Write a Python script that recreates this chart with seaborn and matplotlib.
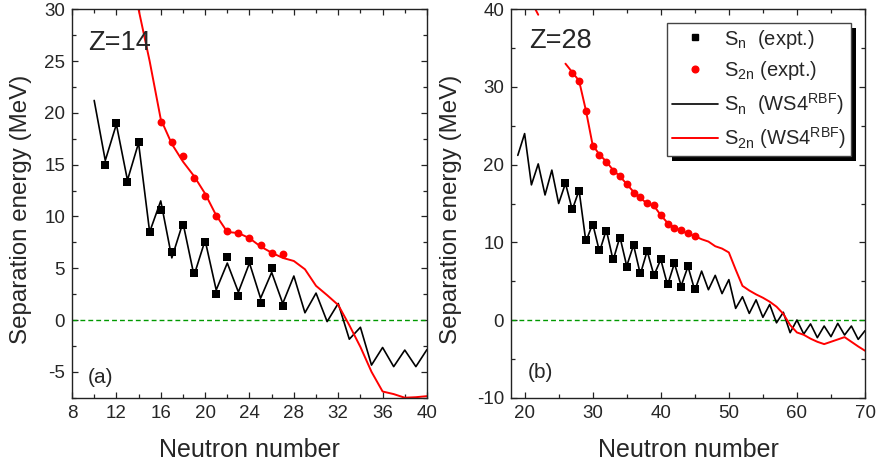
import numpy as np
import pandas as pd
import matplotlib
matplotlib.use('Agg')
import matplotlib.pyplot as plt
from matplotlib.lines import Line2D
from matplotlib.patches import Rectangle
from matplotlib.ticker import MultipleLocator
import seaborn as sns

# ---------------- data: Z = 14 ----------------
a_calc_sn_N = list(range(10, 41))
a_calc_sn = [21.2, 15.4, 18.9, 13.5, 17.1, 8.5, 11.5, 6.0, 9.4, 4.3, 7.7, 2.9, 5.5, 2.7,
             5.5, 2.1, 4.6, 1.6, 4.25, 0.7, 2.6, -0.15, 1.6, -1.85, -0.7, -4.35, -2.65,
             -4.5, -2.9, -4.5, -2.85]
a_expt_sn_N = list(range(11, 28))
a_expt_sn = [15.0, 19.0, 13.3, 17.15, 8.5, 10.6, 6.6, 9.2, 4.5, 7.5, 2.5, 6.1, 2.3, 5.7,
             1.6, 5.0, 1.35]
a_expt_s2n_N = list(range(16, 28))
a_expt_s2n = [19.1, 17.15, 15.8, 13.7, 12.0, 10.0, 8.6, 8.4, 7.9, 7.2, 6.5, 6.35]
a_calc_s2n_N = list(range(13, 41))
a_calc_s2n = [35.5, 30.0, 25.0, 19.4, 17.0, 15.3, 13.9, 12.2, 10.1, 8.5, 8.4, 7.9, 7.1,
              6.5, 6.0, 5.7, 4.9, 3.3, 2.4, 1.45, -0.5, -2.6, -5.0, -6.9, -7.15, -7.5,
              -7.45, -7.35]

# ---------------- data: Z = 28 ----------------
b_calc_sn_N = list(range(19, 71))
b_calc_sn = [21.2, 24.0, 17.4, 20.1, 16.1, 19.3, 15.0, 17.6, 14.2, 16.7,
             10.1, 12.4, 8.8, 11.6, 7.7, 10.7, 6.95, 9.65, 5.9, 8.9,
             5.75, 7.8, 4.5, 7.3, 4.4, 6.9, 3.8, 6.3, 3.9, 5.75,
             3.4, 5.2, 1.5, 3.0, 0.85, 2.6, 0.35, 2.0, -0.36, 1.0,
             -1.63, 0.0, -1.8, -0.5, -2.27, -0.77, -2.14, -0.43, -1.93, -0.77,
             -2.49, -1.37]
b_expt_sn_N = list(range(26, 46))
b_expt_sn = [17.6, 14.25, 16.6, 10.3, 12.2, 9.0, 11.45, 7.85, 10.55, 6.85, 9.65, 6.1,
             8.9, 5.8, 7.8, 4.6, 7.3, 4.3, 6.95, 3.95]
b_expt_s2n_N = list(range(27, 46))
b_expt_s2n = [31.8, 30.8, 26.9, 22.4, 21.2, 20.4, 19.2, 18.5, 17.5, 16.4, 15.8, 15.1,
              14.8, 13.5, 12.4, 11.9, 11.6, 11.2, 10.8]
b_calc_s2n_N_seg1 = [20, 21, 22]
b_calc_s2n_seg1 = [44.0, 41.0, 39.3]
b_calc_s2n_N_seg2 = list(range(26, 71))
b_calc_s2n_seg2 = [33.0, 31.9, 30.8, 27.0, 22.5, 21.3, 20.4, 19.3, 18.5, 17.5,
                   16.5, 15.7, 15.0, 14.7, 13.5, 12.5, 11.9, 11.5, 11.1, 10.8,
                   10.4, 10.1, 9.5, 9.2, 8.7, 6.5, 4.4, 3.8, 3.3, 2.87,
                   2.36, 1.72, 0.8, -0.65, -1.6, -1.9, -2.4, -2.8, -3.1, -2.8,
                   -2.5, -2.2, -2.8, -3.4, -3.95]

legend_labels = ["S$_n$  (expt.)", "S$_{2n}$ (expt.)",
                 "S$_n$  (WS4$^{RBF}$)", "S$_{2n}$ (WS4$^{RBF}$)"]

# ---------------- style ----------------
sns.set_style('ticks')
plt.rcParams['font.family'] = ['Liberation Sans', 'DejaVu Sans']
plt.rcParams['mathtext.default'] = 'regular'
plt.rcParams['axes.unicode_minus'] = False

RED = '#ff0000'
GREEN = '#009900'
SPINE = '#222222'

fig = plt.figure(figsize=(8.78, 4.70), dpi=100)
ax1 = fig.add_axes([0.0820, 0.1538, 0.4043, 0.8264])
ax2 = fig.add_axes([0.5820, 0.1538, 0.4032, 0.8264])


def draw_panel(ax, calc_sn_N, calc_sn, calc_s2n_df, expt_sn_N, expt_sn, expt_s2n_N, expt_s2n):
    ax.axhline(0, color=GREEN, lw=1.0, ls=(0, (3.5, 2.2)), zorder=1)
    sns.lineplot(x=calc_sn_N, y=calc_sn, ax=ax, color='k', lw=1.2,
                 estimator=None, sort=False, legend=False, zorder=2)
    sns.lineplot(data=calc_s2n_df, x='N', y='S', units='seg', ax=ax, color=RED, lw=1.4,
                 estimator=None, sort=False, legend=False, zorder=2)
    sns.scatterplot(x=expt_sn_N, y=expt_sn, ax=ax, marker='s', s=28, color='k',
                    linewidth=0, legend=False, zorder=3)
    sns.scatterplot(x=expt_s2n_N, y=expt_s2n, ax=ax, marker='o', s=32, color=RED,
                    linewidth=0, legend=False, zorder=3)


df_a = pd.DataFrame({'N': a_calc_s2n_N, 'S': a_calc_s2n, 'seg': 0})
draw_panel(ax1, a_calc_sn_N, a_calc_sn, df_a, a_expt_sn_N, a_expt_sn,
           a_expt_s2n_N, a_expt_s2n)

df_b = pd.concat([
    pd.DataFrame({'N': b_calc_s2n_N_seg1, 'S': b_calc_s2n_seg1, 'seg': 0}),
    pd.DataFrame({'N': b_calc_s2n_N_seg2, 'S': b_calc_s2n_seg2, 'seg': 1}),
], ignore_index=True)
draw_panel(ax2, b_calc_sn_N, b_calc_sn, df_b, b_expt_sn_N, b_expt_sn,
           b_expt_s2n_N, b_expt_s2n)

# axes formatting
ax1.set_xlim(8, 40)
ax1.set_ylim(-7.5, 30)
ax1.xaxis.set_major_locator(MultipleLocator(4))
ax1.xaxis.set_minor_locator(MultipleLocator(2))
ax1.yaxis.set_major_locator(MultipleLocator(5))
ax1.yaxis.set_minor_locator(MultipleLocator(2.5))

ax2.set_xlim(18, 70)
ax2.set_ylim(-10, 40)
ax2.xaxis.set_major_locator(MultipleLocator(10))
ax2.xaxis.set_minor_locator(MultipleLocator(5))
ax2.yaxis.set_major_locator(MultipleLocator(10))
ax2.yaxis.set_minor_locator(MultipleLocator(5))

for ax, ylx in ((ax1, -0.113), (ax2, -0.138)):
    for sp in ax.spines.values():
        sp.set_visible(True)
        sp.set_linewidth(1.0)
        sp.set_color(SPINE)
    ax.tick_params(which='both', direction='in', top=True, right=True,
                   width=0.9, color=SPINE, labelsize=13.5, pad=5)
    ax.tick_params(which='major', length=4.0)
    ax.tick_params(which='minor', length=2.8)
    ax.set_xlabel('Neutron number', fontsize=18)
    ax.set_ylabel('Separation energy (MeV)', fontsize=17.4)
    ax.xaxis.set_label_coords(0.5, -0.105)
    ax.yaxis.set_label_coords(ylx, 0.486)

ax1.text(0.045, 0.895, 'Z=14', transform=ax1.transAxes, fontsize=19.5, va='baseline')
ax2.text(0.051, 0.900, 'Z=28', transform=ax2.transAxes, fontsize=19.5, va='baseline')
ax1.text(0.045, 0.038, '(a)', transform=ax1.transAxes, fontsize=15, va='baseline')
ax2.text(0.048, 0.050, '(b)', transform=ax2.transAxes, fontsize=15, va='baseline')

# legend
handles = [
    Line2D([], [], ls='none', marker='s', ms=4.3, color='k', mec='k'),
    Line2D([], [], ls='none', marker='o', ms=4.8, color=RED, mec=RED),
    Line2D([], [], color='k', lw=1.2),
    Line2D([], [], color=RED, lw=1.4),
]
leg = ax2.legend(handles, legend_labels, loc='upper left', bbox_to_anchor=(0.44, 0.966),
                 borderaxespad=0, fontsize=14.5, frameon=True, fancybox=False,
                 framealpha=1, edgecolor='#444444', handlelength=2.3,
                 handletextpad=0.3, labelspacing=0.43, borderpad=0.25)
leg.get_frame().set_linewidth(1.0)
leg.set_zorder(5)

# shadow behind legend
fig.canvas.draw()
bb = leg.get_frame().get_window_extent()
off = 5
inv = ax2.transAxes.inverted()
(x0, y0) = inv.transform((bb.x0 + off, bb.y0 - off))
(x1, y1) = inv.transform((bb.x1 + off, bb.y1 - off))
ax2.add_patch(Rectangle((x0, y0), x1 - x0, y1 - y0, transform=ax2.transAxes,
                        facecolor='k', edgecolor='none', zorder=4.9, clip_on=False))

fig.savefig('out.png', dpi=100)
